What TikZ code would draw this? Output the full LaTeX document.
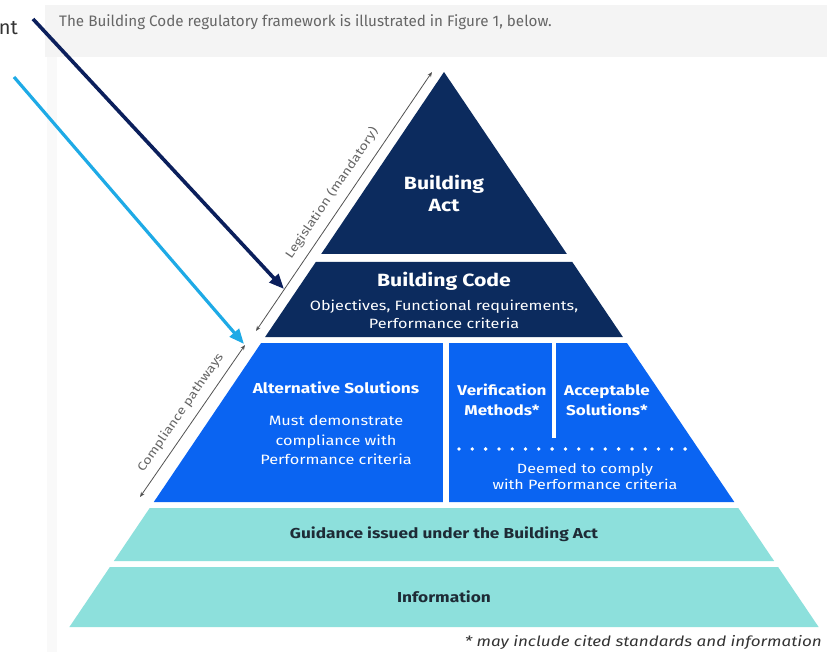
\documentclass[tikz,border=0pt]{standalone}
\usepackage{fontspec}
\setmainfont{Fira Sans}[FakeStretch=1.2]
\newfontfamily\plainfont{Fira Sans}
\usetikzlibrary{arrows.meta}
\definecolor{navytier}{HTML}{0C2B5E}
\definecolor{bluetier}{HTML}{0A64F2}
\definecolor{tealtier}{HTML}{8DE0DC}
\definecolor{darktxt}{HTML}{1E2B36}
\definecolor{graytxt}{HTML}{666666}
\definecolor{navyarrow}{HTML}{0B1F5C}
\definecolor{skyarrow}{HTML}{1EAAE6}
\definecolor{bandgray}{HTML}{F4F4F4}
\begin{document}
\begin{tikzpicture}[x=1pt,y=-1pt,
  whitetxt/.style={text=white,inner sep=0pt,align=center},
  darklabel/.style={text=darktxt,inner sep=0pt,font=\fontsize{14.4}{17}\selectfont\bfseries},
  dimarrow/.style={draw=graytxt!80!black,line width=0.8pt,{Stealth[length=5pt,width=4pt]}-{Stealth[length=5pt,width=4pt]}},
  dimlabel/.style={text=graytxt,font=\fontsize{12}{14}\selectfont,sloped,above=8pt,inner sep=0pt},
  bigarrow/.style={line width=3.6pt,-{Triangle[length=15pt,width=12pt]}}
]
\useasboundingbox (0,0) rectangle (827,652);
\fill[white] (0,0) rectangle (827,652);
% page band and faint border
\fill[bandgray] (45,5) rectangle (827,57);
\fill[gray!5] (47,57) rectangle (57,652);
\node[anchor=base west,text=graytxt,inner sep=0pt,font=\plainfont\fontsize{15.2}{18}\selectfont] (intro) at (59,27)
  {The Building Code regulatory framework is illustrated in Figure 1, below.};
\node[anchor=base east,text=black!80,inner sep=0pt,font=\plainfont\fontsize{20}{24}\selectfont] (nt) at (18,35) {nt};

% tiers
\fill[navytier] (444,72) -- (566.9,254) -- (321.2,254) -- cycle;
\fill[navytier] (315.8,262) -- (572.3,262) -- (622.9,337) -- (265.1,337) -- cycle;
\fill[bluetier] (261.1,343) -- (626.9,343) -- (734.3,502) -- (153.8,502) -- cycle;
\fill[tealtier] (149.7,508) -- (738.3,508) -- (774.1,561) -- (113.9,561) -- cycle;
\fill[tealtier] (109.9,567) -- (778.1,567) -- (818.6,627) -- (69.4,627) -- cycle;
% splits in compliance tier
\fill[white] (443,342) rectangle (449,503);
\fill[white] (552,342) rectangle (556,438);
\foreach \i in {0,...,17} \fill[white] (459+\i*13.3,449) circle (1.9);

% texts
\node[whitetxt,font=\fontsize{17.7}{22}\selectfont\bfseries] (act) at (444,193) {Building\\Act};
\node[whitetxt,anchor=base,font=\fontsize{17.7}{21}\selectfont\bfseries] (code) at (444,287) {Building Code};
\node[whitetxt,font=\fontsize{13.5}{18}\selectfont] (codesub) at (444,314) {Objectives, Functional requirements,\\Performance criteria};
\node[whitetxt,anchor=base,font=\fontsize{14.4}{17}\selectfont\bfseries] (alt) at (336,393) {Alternative Solutions};
\node[whitetxt,font=\fontsize{13.6}{19.5}\selectfont] (altsub) at (336,440) {Must demonstrate\\compliance with\\Performance criteria};
\node[whitetxt,font=\fontsize{14.2}{19.5}\selectfont\bfseries] (vm) at (502,400) {Verification\\Methods*};
\node[whitetxt,font=\fontsize{14.2}{19.5}\selectfont\bfseries] (as) at (607,400) {Acceptable\\Solutions*};
\node[whitetxt,font=\fontsize{13.4}{16}\selectfont] (deemed) at (585,477) {Deemed to comply\\with Performance criteria};
\node[darklabel] (guid) at (444,534) {Guidance issued under the Building Act};
\node[darklabel] (info) at (444,597) {Information};
\node[anchor=base east,inner sep=0pt,text=black!80,font=\fontsize{14.2}{17}\selectfont\itshape] (foot) at (822,646)
  {* may include cited standards and information};

% dimension arrows
\coordinate (legA) at (256,331);
\coordinate (legB) at (432,72);
\draw[dimarrow] (legA) -- node[dimlabel] (leglab) {Legislation (mandatory)} (legB);
\coordinate (comA) at (140,497);
\coordinate (comB) at (245,345);
\draw[dimarrow] (comA) -- node[dimlabel] (comlab) {Compliance pathways} (comB);

% pointer arrows
\coordinate (navS) at (33,19);
\coordinate (navE) at (284,289);
\draw[bigarrow,navyarrow] (navS) -- (navE);
\coordinate (skyS) at (14,77);
\coordinate (skyE) at (244,344);
\draw[bigarrow,skyarrow,line width=3.2pt] (skyS) -- (skyE);
\end{tikzpicture}
\end{document}
